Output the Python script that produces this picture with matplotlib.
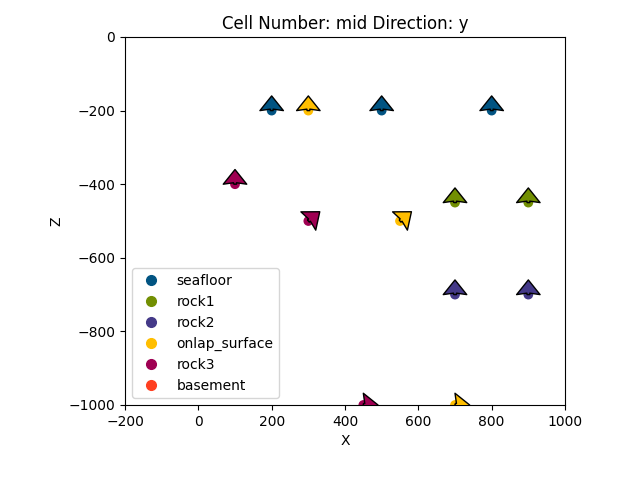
import matplotlib
matplotlib.use("Agg")
import matplotlib.pyplot as plt
from matplotlib.lines import Line2D

surfaces = ['seafloor', 'rock1', 'rock2', 'onlap_surface', 'rock3', 'basement']
colors = ['#015482', '#728f02', '#443988', '#ffbe00', '#9f0052', '#ff3f20']

pt_surface = ['seafloor', 'seafloor', 'seafloor', 'rock1', 'rock1', 'rock2', 'rock2',
              'onlap_surface', 'onlap_surface', 'onlap_surface', 'rock3', 'rock3', 'rock3']
pt_x = [200, 500, 800, 700, 900, 700, 900, 300, 550, 700, 100, 300, 450]
pt_z = [-200, -200, -200, -450, -450, -700, -700, -200, -500, -1000, -400, -500, -1000]

or_surface = ['seafloor', 'seafloor', 'seafloor', 'rock1', 'rock1', 'rock2', 'rock2',
              'onlap_surface', 'onlap_surface', 'onlap_surface', 'rock3', 'rock3', 'rock3']
or_x = [200, 500, 800, 700, 900, 700, 900, 300, 550, 700, 100, 300, 450]
or_z = [-200, -200, -200, -450, -450, -700, -700, -200, -500, -1000, -400, -500, -1000]
or_gx = [0, 0, 0, 0, 0, 0, 0, 0, 0.78, 1, 0, 0.78, 1]
or_gz = [1, 1, 1, 1, 1, 1, 1, 1, 0.63, 0, 1, 0.63, 0]

cmap = dict(zip(surfaces, colors))

fig = plt.figure(figsize=(6.4, 4.8), dpi=100)
ax = fig.add_axes([125/640, 75/480, 440/640, 368/480])

ax.scatter(pt_x, pt_z, c=[cmap[s] for s in pt_surface], s=36, zorder=2)
ax.quiver(or_x, or_z, or_gx, or_gz, pivot='tail', angles='xy', scale_units='width', scale=30,
          color=[cmap[s] for s in or_surface], edgecolor='k', linewidths=1,
          width=0.0075, headwidth=8, zorder=3)

handles = [Line2D([0], [0], marker='o', linestyle='', color=c, markersize=7) for c in colors]
ax.legend(handles, surfaces, loc='lower left')

ax.set_xlim(-200, 1000)
ax.set_ylim(-1000, 0)
ax.set_title('Cell Number: mid Direction: y')
ax.set_xlabel('X')
ax.set_ylabel('Z')

fig.savefig('out.png', dpi=100)
